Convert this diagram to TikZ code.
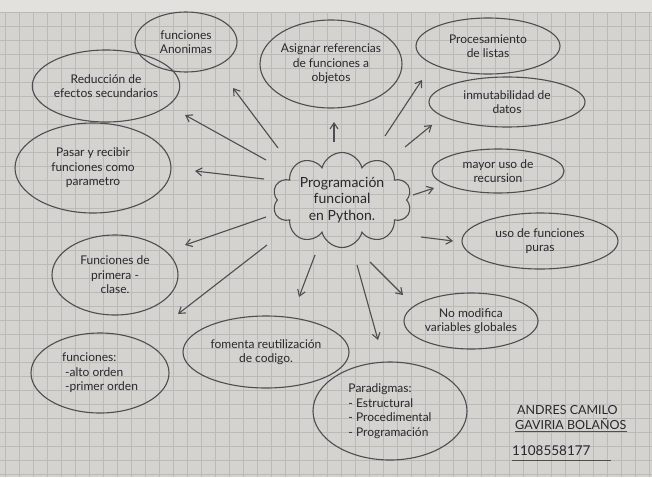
\documentclass[tikz,border=0pt]{standalone}
\usepackage{fontspec}
\setmainfont{Lato}
\usetikzlibrary{shapes.geometric,shapes.symbols,arrows.meta}
\definecolor{paper}{RGB}{212,211,207}
\definecolor{paperlight}{RGB}{226,225,221}
\definecolor{gridc}{RGB}{186,186,183}
\definecolor{pencil}{RGB}{80,78,76}
\definecolor{ink}{RGB}{40,40,40}
\tikzset{
  idea/.style={ellipse, draw=pencil, line width=1.1pt, inner sep=0pt, align=center,
    text=ink, font=\fontsize{12}{14.5}\selectfont},
  arr/.style={draw=pencil, line width=1.1pt, -{Straight Barb[length=6pt,width=8pt]}},
  gridline/.style={draw=gridc, line width=0.5pt},
  sig/.style={text=ink, font=\fontsize{12.5}{14}\selectfont, anchor=west, inner sep=0pt}
}
\begin{document}
\begin{tikzpicture}[x=1pt,y=-1pt]
\useasboundingbox (0,0) rectangle (652,477);
\fill[paper] (0,0) rectangle (652,477);
\fill[paperlight] (0,0) rectangle (652,12);
\foreach \i in {0,...,46} {\draw[gridline] (5+14*\i,12) -- (5+14*\i,477);}
\foreach \j in {0,...,33} {\draw[gridline] (0,12+14*\j) -- (652,12+14*\j);}

% central cloud
\node[cloud, cloud puffs=10, cloud ignores aspect, draw=pencil, line width=1.1pt,
  minimum width=139pt, minimum height=95pt, inner sep=0pt, align=center, text=ink,
  font=\fontsize{14}{16.5}\selectfont] (core) at (342,200)
  {Programación\\funcional\\en Python.};

% ideas
\node[idea, minimum width=102pt, minimum height=60pt] (anon) at (186,42) {funciones\\Anonimas};
\node[idea, minimum width=142pt, minimum height=72pt] (redu) at (106,86) {Reducción de\\efectos secundarios};
\node[idea, minimum width=156pt, minimum height=90pt] (pasar) at (93,168) {Pasar y recibir\\funciones como\\parametro};
\node[idea, minimum width=142pt, minimum height=88pt] (asig) at (331,64) {Asignar referencias\\de funciones a\\objetos};
\node[idea, minimum width=144pt, minimum height=56pt] (proc) at (488,46) {Procesamiento\\de listas};
\node[idea, minimum width=156pt, minimum height=50pt] (inmu) at (507,102) {inmutabilidad de\\datos};
\node[idea, minimum width=132pt, minimum height=44pt] (recu) at (498,171) {mayor uso de\\recursion};
\node[idea, minimum width=156pt, minimum height=56pt] (puras) at (540,241) {uso de funciones\\puras};
\node[idea, minimum width=134pt, minimum height=56pt] (glob) at (471,321) {No modifica\\variables globales};
\node[idea, minimum width=154pt, minimum height=98pt, align=left] (para) at (390,411) {Paradigmas:\\- Estructural\\- Procedimental\\- Programación};
\node[idea, minimum width=166pt, minimum height=72pt] (fome) at (266,352) {fomenta reutilización\\de codigo.};
\node[idea, minimum width=138pt, minimum height=80pt, align=left] (orden) at (100,373) {funciones:\\\ -alto orden\\\ -primer orden};
\node[idea, minimum width=126pt, minimum height=80pt] (prim) at (115,275) {Funciones de\\primera -\\clase.};

% arrow end points
\coordinate (s1) at (278,148); \coordinate (e1) at (233,88);
\coordinate (s2) at (266,160); \coordinate (e2) at (185,115);
\coordinate (s3) at (264,179); \coordinate (e3) at (195,171);
\coordinate (s4) at (266,217); \coordinate (e4) at (185,245);
\coordinate (s5) at (267,245); \coordinate (e5) at (178,314);
\coordinate (s6) at (315,255); \coordinate (e6) at (299,297);
\coordinate (s7) at (357,265); \coordinate (e7) at (378,340);
\coordinate (s8) at (370,262); \coordinate (e8) at (403,295);
\coordinate (s9) at (421,237); \coordinate (e9) at (453,241);
\coordinate (s10) at (413,195); \coordinate (e10) at (434,188);
\coordinate (s11) at (405,147); \coordinate (e11) at (432,125);
\coordinate (s12) at (385,136); \coordinate (e12) at (422,80);
\coordinate (s13) at (334,142); \coordinate (e13) at (334,122);

\draw[arr] (s1) -- (e1);
\draw[arr] (s2) -- (e2);
\draw[arr] (s3) -- (e3);
\draw[arr] (s4) -- (e4);
\draw[arr] (s5) -- (e5);
\draw[arr] (s6) -- (e6);
\draw[arr] (s7) -- (e7);
\draw[arr] (s8) -- (e8);
\draw[arr] (s9) -- (e9);
\draw[arr] (s10) -- (e10);
\draw[arr] (s11) -- (e11);
\draw[arr] (s12) -- (e12);
\draw[arr] (s13) -- (e13);

% signature
\node[sig] (n1) at (517,410) {ANDRES CAMILO};
\node[sig] (n2) at (515,424) {GAVIRIA BOLAÑOS};
\node[sig, font=\fontsize{13.5}{15}\selectfont] (n3) at (512,451) {1108558177};
\draw[pencil, line width=1pt] ([yshift=-2pt]n2.south west) -- ([yshift=-2pt]n2.south east);
\draw[pencil, line width=1pt] ([yshift=-4pt]n3.south west) -- ([xshift=20pt,yshift=-4pt]n3.south east);
\end{tikzpicture}
\end{document}
